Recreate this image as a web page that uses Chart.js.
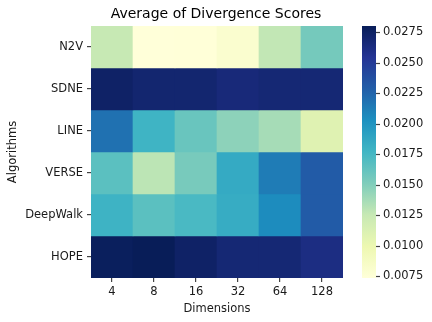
<!DOCTYPE html>
<html lang="en">
  <head>
    <meta charset="UTF-8" />
    <title>Average of Divergence Scores</title>
    <script src="https://cdn.jsdelivr.net/npm/chart.js@4.4.1/dist/chart.umd.min.js"></script>
    <style>
      body { margin: 0; background: #fff; }
    </style>
  </head>
  <body>
    <canvas id="heat" width="432" height="322"></canvas>

    <script>
      // data
      const dimensions = ["4", "8", "16", "32", "64", "128"];
      const algorithms = ["N2V", "SDNE", "LINE", "VERSE", "DeepWalk", "HOPE"];

      const n2v = [0.0125, 0.00735, 0.0074, 0.0080, 0.0127, 0.0155];
      const sdne = [0.0274, 0.0270, 0.0270, 0.0266, 0.0268, 0.0268];
      const line = [0.0219, 0.0178, 0.0160, 0.0146, 0.0137, 0.0109];
      const verse = [0.0166, 0.0129, 0.0154, 0.0185, 0.0213, 0.0230];
      const deepwalk = [0.0179, 0.0166, 0.0173, 0.0184, 0.0205, 0.0230];
      const hope = [0.0278, 0.0280, 0.0274, 0.0268, 0.0268, 0.0262];
      const rows = [n2v, sdne, line, verse, deepwalk, hope];

      const cbTicks = [0.0075, 0.01, 0.0125, 0.015, 0.0175, 0.02, 0.0225, 0.025, 0.0275];

      const vmin = Math.min(...rows.flat());
      const vmax = Math.max(...rows.flat());

      // YlGnBu
      const stops = [
        [255, 255, 217], [237, 248, 177], [199, 233, 180], [127, 205, 187],
        [65, 182, 196], [29, 145, 192], [34, 94, 168], [37, 52, 148], [8, 29, 88]
      ];
      function cmap(v) {
        let t = (v - vmin) / (vmax - vmin);
        t = Math.max(0, Math.min(1, t));
        const p = t * (stops.length - 1);
        const i = Math.min(Math.floor(p), stops.length - 2);
        const f = p - i;
        const c = stops[i].map((a, k) => Math.round(a + (stops[i + 1][k] - a) * f));
        return `rgb(${c[0]},${c[1]},${c[2]})`;
      }

      const ink = "#1a1a1a";
      const tickInk = "#444";
      const font = { family: "DejaVu Sans", size: 11.5 };

      // gradient strip + its tick marks, placed inside the cb axis box
      const colorbar = {
        id: "colorbar",
        afterDraw(chart) {
          const s = chart.scales.cb;
          const ctx = chart.ctx;
          const x0 = s.left + 19;
          const w = 14;
          const g = ctx.createLinearGradient(0, s.bottom, 0, s.top);
          for (let i = 0; i <= 40; i++) {
            g.addColorStop(i / 40, cmap(vmin + (vmax - vmin) * i / 40));
          }
          ctx.save();
          ctx.fillStyle = g;
          ctx.fillRect(x0, s.top, w, s.bottom - s.top);
          ctx.strokeStyle = tickInk;
          ctx.lineWidth = 1.2;
          s.ticks.forEach((t) => {
            const y = Math.round(s.getPixelForValue(t.value)) + 0.5;
            ctx.beginPath();
            ctx.moveTo(x0 + w, y);
            ctx.lineTo(x0 + w + 4, y);
            ctx.stroke();
          });
          ctx.restore();
        }
      };

      new Chart(document.getElementById("heat"), {
        type: "bar",
        data: {
          labels: dimensions,
          datasets: rows.map((r, i) => ({
            label: algorithms[i],
            data: r.map(() => 1),
            backgroundColor: (c) => cmap(rows[c.datasetIndex][c.dataIndex]),
            borderWidth: 0,
            barPercentage: 1,
            categoryPercentage: 1,
            yAxisID: "y"
          }))
        },
        options: {
          responsive: false,
          animation: false,
          layout: { padding: 0 },
          plugins: {
            legend: { display: false },
            tooltip: { enabled: false },
            title: {
              display: true,
              text: "Average of Divergence Scores",
              color: "#000",
              font: { family: "DejaVu Sans", size: 14, weight: "normal" },
              padding: { top: 5.6, bottom: 3.6 }
            }
          },
          scales: {
            x: {
              stacked: true,
              grid: { display: true, drawOnChartArea: false, offset: false, tickLength: 4, lineWidth: 1.2, color: tickInk },
              border: { display: false },
              ticks: { color: ink, font, padding: 3 },
              title: { display: true, text: "Dimensions", color: ink, font, padding: { top: 0, bottom: 6 } },
              afterFit: (s) => { s.height = 44; }
            },
            y: {
              stacked: true,
              reverse: true,
              min: 0,
              max: 6,
              afterBuildTicks: (s) => { s.ticks = algorithms.map((_, i) => ({ value: i + 0.5 })); },
              grid: { display: true, drawOnChartArea: false, tickLength: 4, lineWidth: 1.2, color: tickInk },
              border: { display: false },
              ticks: { color: ink, font, padding: 4, callback: (v) => algorithms[Math.floor(v)] },
              title: { display: true, text: "Algorithms", color: ink, font, padding: { top: 6, bottom: 0 } },
              afterFit: (s) => { s.width = 91; }
            },
            cb: {
              type: "linear",
              position: "right",
              min: vmin,
              max: vmax,
              afterBuildTicks: (s) => { s.ticks = cbTicks.map((v) => ({ value: v })); },
              grid: { display: true, drawOnChartArea: false, tickLength: 37, color: "rgba(0,0,0,0)" },
              border: { display: false },
              ticks: { color: ink, font, padding: 3, callback: (v) => v.toFixed(4) },
              afterFit: (s) => { s.width = 89; }
            }
          }
        },
        plugins: [colorbar]
      });
    </script>
  </body>
</html>
